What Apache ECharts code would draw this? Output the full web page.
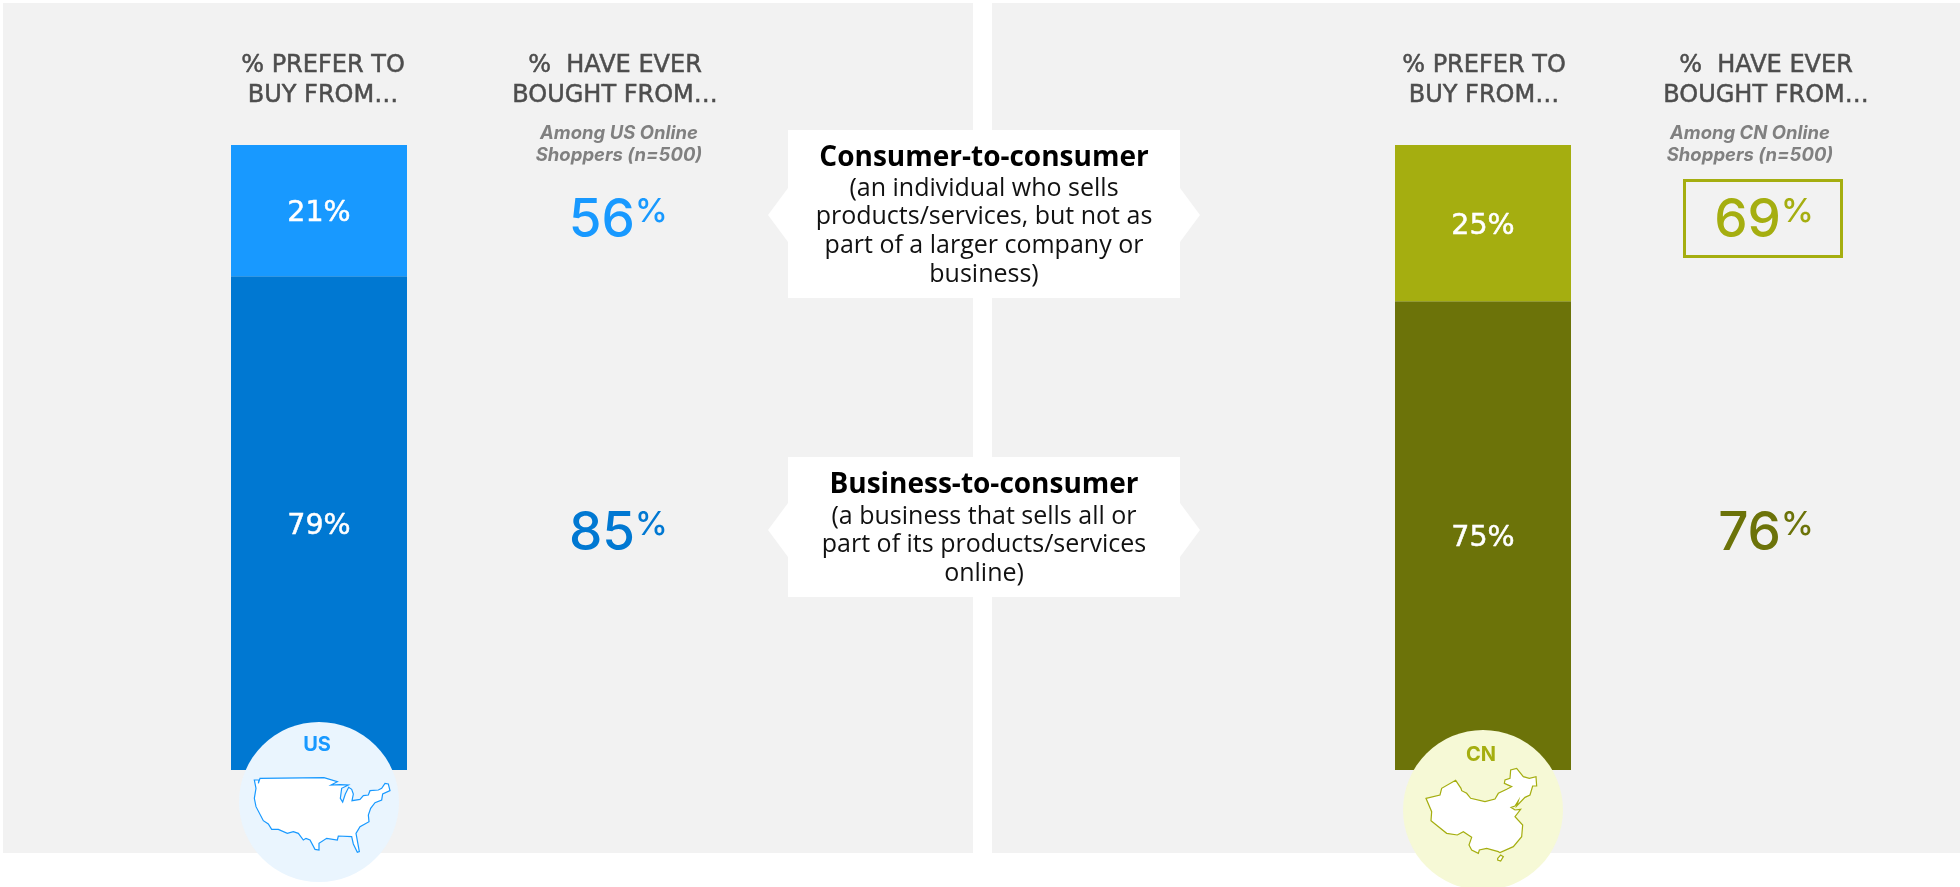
<!DOCTYPE html>
<html>
<head>
<meta charset="utf-8">
<title>Online purchase channels: US and CN</title>
<style>html,body{margin:0;padding:0;background:#fff}#c{width:1960px;height:887px}</style>
<script src="https://cdn.jsdelivr.net/npm/echarts@6/dist/echarts.min.js"></script>
</head>
<body>
<div id="c"></div>
<script>
// Share of shoppers, in percent
const countries = ['US', 'CN'];
const preferC2C = [21, 25];
const preferB2C = [79, 75];
const everC2C = [56, 69];
const everB2C = [85, 76];
const subNotes = [['Among US Online', 'Shoppers (n=500)'], ['Among CN Online', 'Shoppers (n=500)']];
const headPrefer = ['% PREFER TO', 'BUY FROM…'];
const headEver = ['%  HAVE EVER', 'BOUGHT FROM…'];
const c2cText = ['Consumer-to-consumer', '(an individual who sells', 'products/services, but not as', 'part of a larger company or', 'business)'];
const b2cText = ['Business-to-consumer', '(a business that sells all or', 'part of its products/services', 'online)'];

// Country outlines for the round badges
const usOutline = [[163,240],[177,240],[175,250],[180,235],[372,233],[412,245],[393,255],[420,254],[445,255],[425,265],[421,295],[428,306],[436,282],[446,262],[455,268],[460,282],[456,302],[480,298],[490,287],[505,285],[510,272],[535,270],[545,265],[555,250],[565,252],[570,272],[548,282],[545,300],[525,308],[512,325],[505,345],[507,365],[480,380],[468,400],[478,455],[472,457],[460,432],[455,410],[415,408],[412,420],[380,415],[357,430],[357,450],[345,448],[330,420],[318,415],[310,420],[295,400],[280,395],[262,400],[235,388],[215,388],[205,372],[190,362],[168,320],[163,295],[168,265]];
const cnOutline = [[168,295],[210,285],[215,265],[257,241],[273,265],[275,272],[290,280],[302,295],[345,305],[375,297],[385,280],[410,268],[425,260],[403,250],[405,240],[420,235],[422,210],[440,205],[460,230],[478,235],[498,230],[500,258],[488,258],[480,285],[465,292],[440,318],[445,302],[435,318],[423,322],[435,330],[452,328],[435,350],[458,375],[455,410],[430,440],[390,458],[385,455],[350,445],[328,450],[325,460],[305,450],[297,435],[305,412],[280,395],[262,405],[230,400],[183,362],[185,335]];
const hainan = [[383,475],[392,465],[400,470],[392,483],[383,480]];

const LIGHT = ['#1899FF', '#A5AE10'];
const DARK = ['#0078D2', '#6C7309'];
const BADGE = ['#EAF5FE', '#F6F9D6'];
const PANEL = '#F2F2F2';
const HEAD_FONT = '"DejaVu Sans", Inter, sans-serif';
const NUM_FONT = 'Inter, "Open Sans", sans-serif';
const BODY_FONT = '"Open Sans", Lato, sans-serif';

const barLeft = [231, 1395];
const barWidth = 176;
const barTop = 145;
const barBottom = 770;
const preferX = [323, 1484];
const everX = [615, 1766];
const noteX = [619, 1750];
const numSplit = [635, 1781];
const badge = [[319, 802], [1483, 810]];
const outlineOrigin = [[200, 700], [1370, 700]];
const badgeLabel = [[317, 745], [1481, 755]];

function text(x, y, str, size, color, opts) {
  return {
    type: 'text', x, y, z: 20, silent: true,
    style: Object.assign({
      text: str, fill: color, fontSize: size, fontFamily: HEAD_FONT,
      align: 'center', verticalAlign: 'middle'
    }, opts || {})
  };
}

function calloutPoints(left, right, top, bottom, mid, half, tip) {
  return [[left, top], [right, top], [right, mid - half], [right + tip, mid], [right, mid + half],
          [right, bottom], [left, bottom], [left, mid + half], [left - tip, mid], [left, mid - half]];
}

function outline(points, i) {
  const [ox, oy] = outlineOrigin[i];
  return {
    type: 'polygon', z: 16, silent: true,
    shape: { points: points.map(p => [ox + p[0] / 3, oy + p[1] / 3]) },
    style: { fill: '#fff', stroke: LIGHT[i], lineWidth: 1.2 }
  };
}

const elements = [
  { type: 'rect', z: 0, silent: true, shape: { x: 3, y: 3, width: 970, height: 850 }, style: { fill: PANEL } },
  { type: 'rect', z: 0, silent: true, shape: { x: 992, y: 3, width: 968, height: 850 }, style: { fill: PANEL } },
  { type: 'polygon', z: 12, silent: true, shape: { points: calloutPoints(788, 1180, 130, 298, 215, 27, 20) }, style: { fill: '#fff' } },
  { type: 'polygon', z: 12, silent: true, shape: { points: calloutPoints(788, 1180, 457, 597, 530, 27, 20) }, style: { fill: '#fff' } }
];

const headStyle = { stroke: '#4D4D4D', lineWidth: 0.5 };
countries.forEach((name, i) => {
  headPrefer.forEach((t, k) => elements.push(text(preferX[i], 66 + k * 30, t, 24, '#4D4D4D', headStyle)));
  headEver.forEach((t, k) => elements.push(text(everX[i], 66 + k * 30, t, 24, '#4D4D4D', headStyle)));
  subNotes[i].forEach((t, k) => elements.push(text(noteX[i], 133 + k * 22, t, 18.5, '#808080', { fontFamily: NUM_FONT, fontWeight: 700, fontStyle: 'italic' })));
  [[everC2C[i], LIGHT[i], 221], [everB2C[i], DARK[i], 534]].forEach(([v, color, y]) => {
    elements.push(text(numSplit[i], y, String(v), 53, color, { fontFamily: NUM_FONT, align: 'right', fontWeight: 500 }));
    elements.push(text(numSplit[i], y - 9, '%', 33, color, { fontFamily: NUM_FONT, align: 'left', fontWeight: 500 }));
  });
  elements.push({ type: 'circle', z: 15, silent: true, shape: { cx: badge[i][0], cy: badge[i][1], r: 80 }, style: { fill: BADGE[i] } });
  elements.push(text(badgeLabel[i][0], badgeLabel[i][1], name, 20, LIGHT[i], { fontFamily: NUM_FONT, fontWeight: 700 }));
});
elements.push(outline(usOutline, 0));
elements.push(outline(cnOutline, 1));
elements.push(outline(hainan, 1));
elements.push({ type: 'rect', z: 14, silent: true, shape: { x: 1684.5, y: 180.5, width: 157, height: 76 }, style: { fill: 'none', stroke: LIGHT[1], lineWidth: 3 } });

[[c2cText, 158, [189, 217, 246, 275]], [b2cText, 485, [517, 545, 574]]].forEach(([lines, titleY, ys]) => {
  elements.push(text(984, titleY, lines[0], 28, '#000', { fontWeight: 700, fontFamily: BODY_FONT }));
  ys.forEach((y, k) => elements.push(text(984, y, lines[k + 1], 25, '#111', { fontFamily: BODY_FONT })));
});

function stackSeries(i, data, color) {
  return {
    type: 'bar', stack: 'prefer' + i, xAxisIndex: i, yAxisIndex: i, z: 5,
    barWidth: '100%', data: [data], silent: true,
    itemStyle: { color },
    label: {
      show: true, position: 'inside', offset: [0, 3], formatter: '{c}%', color: '#fff',
      fontSize: 28.5, fontWeight: 400, fontFamily: HEAD_FONT,
      textBorderColor: '#fff', textBorderWidth: 0.5
    }
  };
}

const option = {
  animation: false,
  backgroundColor: '#fff',
  grid: countries.map((_, i) => ({ left: barLeft[i], width: barWidth, top: barTop, height: barBottom - barTop })),
  xAxis: countries.map((c, i) => ({ type: 'category', gridIndex: i, data: [c], show: false })),
  yAxis: countries.map((_, i) => ({ type: 'value', gridIndex: i, min: 0, max: 100, show: false })),
  series: countries.flatMap((_, i) => [
    stackSeries(i, preferB2C[i], DARK[i]),
    stackSeries(i, preferC2C[i], LIGHT[i])
  ]),
  graphic: { elements }
};

echarts.init(document.getElementById('c'), null, { renderer: 'canvas' }).setOption(option);
</script>
</body>
</html>
